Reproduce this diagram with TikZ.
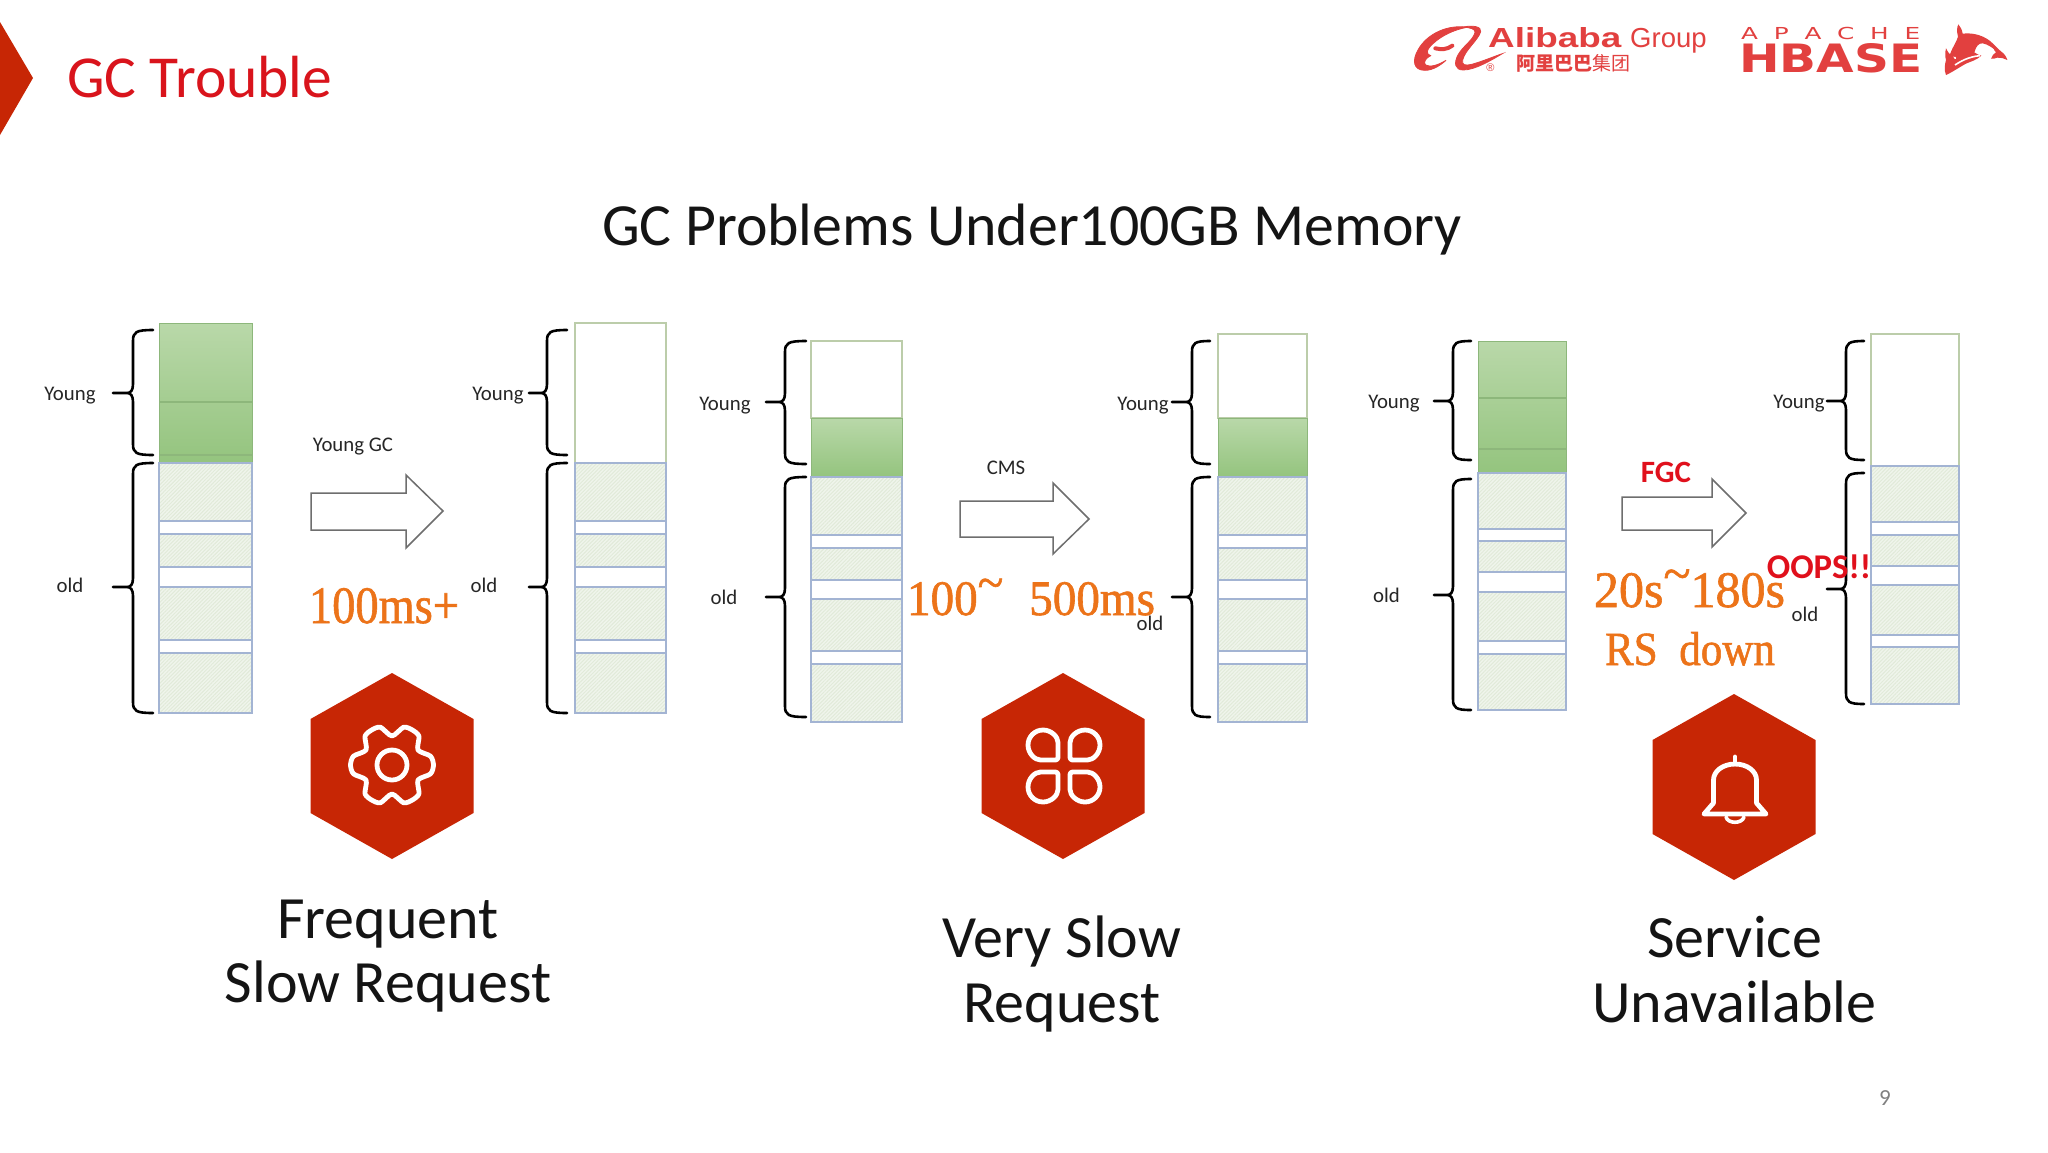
\documentclass[tikz,border=0pt]{standalone}
\usepackage{fontspec}
\usepackage{graphicx}
\usetikzlibrary{patterns.meta}
\setmainfont{Carlito}
\newfontfamily\arial{Liberation Sans}
\newfontfamily\timesf[FakeBold=1.2]{Liberation Serif}
\newfontfamily\djv{DejaVu Sans}
\newfontfamily\cjk{Noto Sans CJK SC}
\definecolor{hexred}{HTML}{C72605}
\definecolor{titlered}{HTML}{D9141C}
\definecolor{logored}{HTML}{E2403F}
\definecolor{orangetxt}{HTML}{EC7319}
\definecolor{fgcred}{HTML}{E0101C}
\definecolor{oldfill}{HTML}{F0F5EC}
\definecolor{oldhatch}{HTML}{E1EAD9}
\definecolor{oldline}{HTML}{A3B4D3}
\definecolor{younge}{HTML}{BCCDAA}
\definecolor{greenl}{HTML}{B9D8A9}
\definecolor{greend}{HTML}{94C47E}
\definecolor{greenline}{HTML}{8DB77B}
\definecolor{arrowline}{HTML}{6E6E6E}
\newcommand{\fs}[1]{\fontsize{#1}{#1}\selectfont}
\tikzset{
  x=1pt,y=-1pt,
  hexa/.style={fill=hexred,draw=none},
  iconline/.style={draw=white,line width=4.8pt,line join=round,line cap=round},
  oldblk/.style={fill=oldfill,draw=none,
    postaction={pattern={Lines[angle=45,distance=2.6pt,line width=1pt]},pattern color=oldhatch}},
  oldedge/.style={draw=oldline,line width=1.3pt},
  oldwrap/.style={fill=white,draw=none},
  youngbox/.style={fill=white,draw=younge,line width=1.4pt},
  greenbox/.style={top color=greenl,bottom color=greend,draw=greenline,line width=1pt},
  greenrule/.style={draw=greenline,line width=1.2pt},
  bigarrow/.style={fill=white,draw=arrowline,line width=1.5pt,line join=miter},
  bracepath/.style={draw=black,line width=2.6pt,line cap=round},
  small/.style={anchor=center,font=\fs{20.8},text=black!85,inner sep=0pt},
  heading/.style={anchor=base,font=\fs{59.8},inner sep=0pt,text=black!92},
  caption/.style={anchor=base,font=\fs{60},inner sep=0pt,text=black!92,align=center},
  slowtxt/.style={anchor=base,inner sep=0pt,text=orangetxt,font=\timesf\fs{40}},
  logotxt/.style={anchor=base,inner sep=0pt,text=logored},
  logofill/.style={fill=logored,draw=logored,line width=.8pt},
}
% xend, xspine, xtip, ytop, ymid, ybot
\newcommand{\gcbrace}[6]{%
  \draw[bracepath] (#1,#4) .. controls ({#2+3},#4) and (#2,{#4+2}) .. (#2,{#4+11})
    -- (#2,{#5-9}) .. controls (#2,{#5-3}) and ({#2-2},#5) .. ({#2-6},#5) -- (#3,#5)
    (#3,#5) -- ({#2-6},#5) .. controls ({#2-2},#5) and (#2,{#5+3}) .. (#2,{#5+9})
    -- (#2,{#6-11}) .. controls (#2,{#6-2}) and ({#2+3},#6) .. (#1,#6);
}
% x1,x2,ytop,ybot,list of blocks
\newcommand{\oldstack}[5]{%
  \fill[oldwrap] (#1,#3) rectangle (#2,#4);
  \foreach \ya/\yb in {#5}{\path[oldblk] (#1,\ya) rectangle (#2,\yb);}
  \draw[oldedge] (#1,#3) rectangle (#2,#4);
  \foreach \ya/\yb in {#5}{\draw[oldedge] (#1,\ya) rectangle (#2,\yb);}
}
% left, base of head, tip, shaft top, shaft bottom, head top, tip y, head bottom
\newcommand{\bigarr}[8]{%
  \draw[bigarrow] (#1,#4) -- (#2,#4) -- (#2,#6) -- (#3,#7) -- (#2,#8) -- (#2,#5) -- (#1,#5) -- cycle;
}
\newcommand{\hexagon}[5]{% cx, halfwidth, top, shoulder1, shoulder2 ; bottom derived
  \fill[hexa] (#1,#3) -- ({#1+#2},#4) -- ({#1+#2},#5) -- (#1,{#4+#5-#3}) -- ({#1-#2},#5) -- ({#1-#2},#4) -- cycle;
}
\newcommand{\wl}[1]{\scalebox{1.5}[1]{#1}}
\begin{document}
\begin{tikzpicture}
\useasboundingbox (0,0) rectangle (2048,1152);
\fill[white] (0,0) rectangle (2048,1152);

% header
\fill[hexa] (0,22) -- (33,78) -- (0,135) -- cycle;
\node[anchor=base west,inner sep=0pt,font=\fs{59.5},text=titlered] (title) at (67,97) {GC Trouble};
\node[heading] (head) at (1032,245.5) {GC Problems Under100GB Memory};

% Alibaba swoosh
\begin{scope}[shift={(1410,15)},scale=1/3]
  \filldraw[logofill] (170,37) .. controls (115,28) and (52,55) .. (25,103)
     .. controls (5,137) and (10,166) .. (45,166) .. controls (68,166) and (90,152) .. (108,136)
     .. controls (85,150) and (60,158) .. (47,150) .. controls (38,143) and (48,128) .. (62,122)
     .. controls (48,118) and (47,105) .. (70,85) .. controls (95,62) and (130,45) .. (170,37) -- cycle;
  \draw[logored,line width=4pt,line cap=round] (76,100) .. controls (95,104) and (110,104) .. (127,92);
  \filldraw[logofill] (160,36) .. controls (190,30) and (215,35) .. (212,50)
     .. controls (205,75) and (165,105) .. (158,135) .. controls (155,150) and (165,153) .. (185,148)
     .. controls (215,140) and (250,125) .. (277,116) .. controls (245,135) and (195,165) .. (160,165)
     .. controls (135,165) and (130,145) .. (145,118) .. controls (160,92) and (190,75) .. (195,52)
     .. controls (197,42) and (180,38) .. (160,36) -- cycle;
\end{scope}
\node[logotxt,font=\arial\fs{11}] (reg) at (1490.5,71) {®};
\node[logotxt,anchor=base west] (alibaba) at (1488,47) {\resizebox{133pt}{20pt}{\arial\bfseries Alibaba}};
\node[logotxt,anchor=base west,font=\arial\fs{27.5}] (group) at (1630,47) {Group};
\node[logotxt,anchor=base west,font=\cjk\fs{19}] (alicn) at (1516,70.5) {{\bfseries 阿里巴巴}集团};

% HBase
\node[logotxt,anchor=base west] (apache) at (1741,39) {\makebox[179pt][s]{\djv\fs{16.5}\wl{A}\hfill\wl{P}\hfill\wl{A}\hfill\wl{C}\hfill\wl{H}\hfill\wl{E}}};
\node[logotxt,anchor=base west] (hbase) at (1739,72) {\resizebox{183pt}{29pt}{\djv\bfseries HBASE}};
% orca
\begin{scope}[shift={(1940,15)},scale=1/3]
  \fill[logored] (55,28) .. controls (62,35) and (66,45) .. (68,56)
     .. controls (100,52) and (135,62) .. (158,85) .. controls (170,97) and (178,105) .. (184,110)
     .. controls (192,115) and (199,125) .. (202,135) .. controls (192,130) and (182,127) .. (172,128)
     .. controls (165,130) and (158,133) .. (153,131) .. controls (155,122) and (162,116) .. (168,112)
     .. controls (160,100) and (145,88) .. (128,85) .. controls (115,84) and (108,95) .. (103,112)
     .. controls (110,118) and (118,120) .. (124,122) .. controls (110,135) and (92,140) .. (80,145)
     .. controls (60,155) and (40,170) .. (18,180) .. controls (12,165) and (14,150) .. (18,135)
     .. controls (15,125) and (15,112) .. (18,100) .. controls (22,108) and (26,115) .. (30,118)
     .. controls (38,95) and (50,80) .. (54,65) .. controls (50,50) and (50,38) .. (55,28) -- cycle;
  \draw[white,line width=2.2pt] (110,102) .. controls (122,92) and (142,90) .. (160,106);
  \draw[white,line width=1.6pt] (45,150) .. controls (60,140) and (85,125) .. (120,122);
  \fill[white] (40,125) .. controls (46,123) and (50,127) .. (48,132) .. controls (44,133) and (41,130) .. (40,125) -- cycle;
\end{scope}

% column 1
\draw[greenbox] (159,323) rectangle (252,463);
\draw[greenrule] (159,402) -- (252,402) (159,455) -- (252,455);
\oldstack{159}{252}{463}{713}{463/521,534/567,587/640,653/713}
\gcbrace{153}{133}{113}{330}{393}{455}
\gcbrace{153}{133}{113}{463}{587}{713}
\node[small] (y1) at (70,396) {Young};
\node[small] (o1) at (70,585) {old};

% column 2
\draw[youngbox] (575,323) rectangle (666,463);
\oldstack{575}{666}{463}{713}{463/521,534/567,587/640,653/713}
\gcbrace{567}{547}{529}{330}{393}{455}
\gcbrace{567}{547}{529}{463}{587}{713}
\node[small] (y2) at (498,396) {Young};
\node[small] (o2) at (484,585) {old};

% arrow 1
\bigarr{311}{406}{443}{493}{530}{475}{511}{548}
\node[small] (gc1) at (353,447) {Young GC};
\node[slowtxt] (t1) at (384,623) {\resizebox{150pt}{35pt}{100ms+}};

% column 3
\draw[youngbox] (811,341) rectangle (902,418);
\draw[greenbox] (811,418) rectangle (902,477);
\oldstack{811}{902}{477}{722}{477/535,548/580,599/651,664/722}
\gcbrace{806}{785}{766}{341}{402}{464}
\gcbrace{806}{785}{766}{477}{597}{717}
\node[small] (y3) at (725,406) {Young};
\node[small] (o3) at (724,597) {old};

% column 4
\draw[youngbox] (1218,334) rectangle (1307,418);
\draw[greenbox] (1218,418) rectangle (1307,477);
\oldstack{1218}{1307}{477}{722}{477/535,548/580,599/651,664/722}
\gcbrace{1210}{1192}{1172}{341}{402}{464}
\gcbrace{1210}{1192}{1172}{477}{597}{717}
\node[small] (y4) at (1143,406) {Young};
\node[small] (o4) at (1150,623) {old};

% arrow 2
\bigarr{960}{1053}{1089}{501}{537}{483}{519}{554}
\node[small] (gc2) at (1006,468) {CMS};
\node[slowtxt] (t2) at (1031,615) {\resizebox{248pt}{33pt}{100\smash{\raisebox{.32em}{\char`\~}}\kern.3em\ 500ms}};

% column 5
\draw[greenbox] (1478,341) rectangle (1566,473);
\draw[greenrule] (1478,398) -- (1566,398) (1478,449) -- (1566,449);
\oldstack{1478}{1566}{473}{710}{473/529,541/572,592/641,654/710}
\gcbrace{1471}{1453}{1434}{341}{401}{460}
\gcbrace{1471}{1453}{1434}{479}{595}{710}
\node[small] (y5) at (1394,404) {Young};
\node[small] (o5) at (1386.5,595) {old};

% column 6
\draw[youngbox] (1871,334) rectangle (1959,466);
\oldstack{1871}{1959}{466}{704}{466/522,535/566,585/635,647/704}
\gcbrace{1864}{1846}{1827}{341}{401}{460}
\gcbrace{1864}{1846}{1827}{473}{589}{704}
\node[small] (y6) at (1799,404) {Young};
\node[small] (o6) at (1805,614) {old};

% arrow 3
\bigarr{1622}{1712}{1746}{497}{530}{479}{513}{547}
\node[anchor=center,inner sep=0pt,font=\fs{31}\bfseries,text=fgcred] (fgc) at (1666,472) {FGC};
\node[anchor=center,inner sep=0pt,font=\fs{34.7}\bfseries,text=fgcred] (oops) at (1819,567) {OOPS!!};
\node[slowtxt] (t3) at (1689.5,607) {\resizebox{191pt}{34pt}{20s\smash{\raisebox{.32em}{\char`\~}}180s}};
\node[slowtxt] (t4) at (1690,665) {\resizebox{170pt}{33pt}{RS\ \ down}};

% hexagons and icons
\hexagon{392}{81.5}{673}{719}{813}
\hexagon{1063}{81.5}{673}{719}{813}
\hexagon{1734}{81.5}{694}{740}{834}

% gear
\begin{scope}[shift={(392,765)}]
  \draw[iconline] (0,0) circle (15);
  \draw[iconline] plot[smooth cycle,tension=0.45] coordinates {
   (-13:39.5) (0:41.5) (13:39.5) (30:30) (47:39.5) (60:40.5) (73:39.5) (90:29)
   (107:39.5) (120:40.5) (133:39.5) (150:30) (167:39.5) (180:41.5) (193:39.5) (210:30)
   (227:39.5) (240:40.5) (253:39.5) (270:29) (287:39.5) (300:40.5) (313:39.5) (330:30)};
\end{scope}
% clover
\begin{scope}[shift={(1064,766)}]
  \foreach \sx/\sy in {1/1,-1/1,1/-1,-1/-1}{
    \begin{scope}[xscale=\sx,yscale=\sy]
      \draw[iconline,rounded corners=2.5pt] (-6,-6) -- (-6,-21) arc (0:-270:15) -- cycle;
    \end{scope}
  }
\end{scope}
% bell
\begin{scope}[shift={(1735,-3)}]
  \draw[iconline] (-31,817) -- (-21.5,806) -- (-21.5,783)
    .. controls (-21.5,774) and (-12,767) .. (0,767)
    .. controls (12,767) and (21.5,774) .. (21.5,783) -- (21.5,806) -- (31,817) -- cycle;
  \draw[iconline] (0,767) -- (0,760);
  \draw[draw=white,line width=3.6pt,line cap=round] (-9,820) .. controls (-7,827) and (7,827) .. (9,820);
\end{scope}

% captions
\node[caption] (c1a) at (388,938) {Frequent};
\node[caption] (c1b) at (388,1002) {Slow Request};
\node[caption] (c2a) at (1062,957) {Very Slow};
\node[caption] (c2b) at (1062,1022) {Request};
\node[caption] (c3a) at (1734.5,957) {Service};
\node[caption] (c3b) at (1734.5,1022) {Unavailable};

\node[anchor=center,inner sep=0pt,font=\fs{23},text=black!50] (pg) at (1885,1098) {9};
\end{tikzpicture}
\end{document}
